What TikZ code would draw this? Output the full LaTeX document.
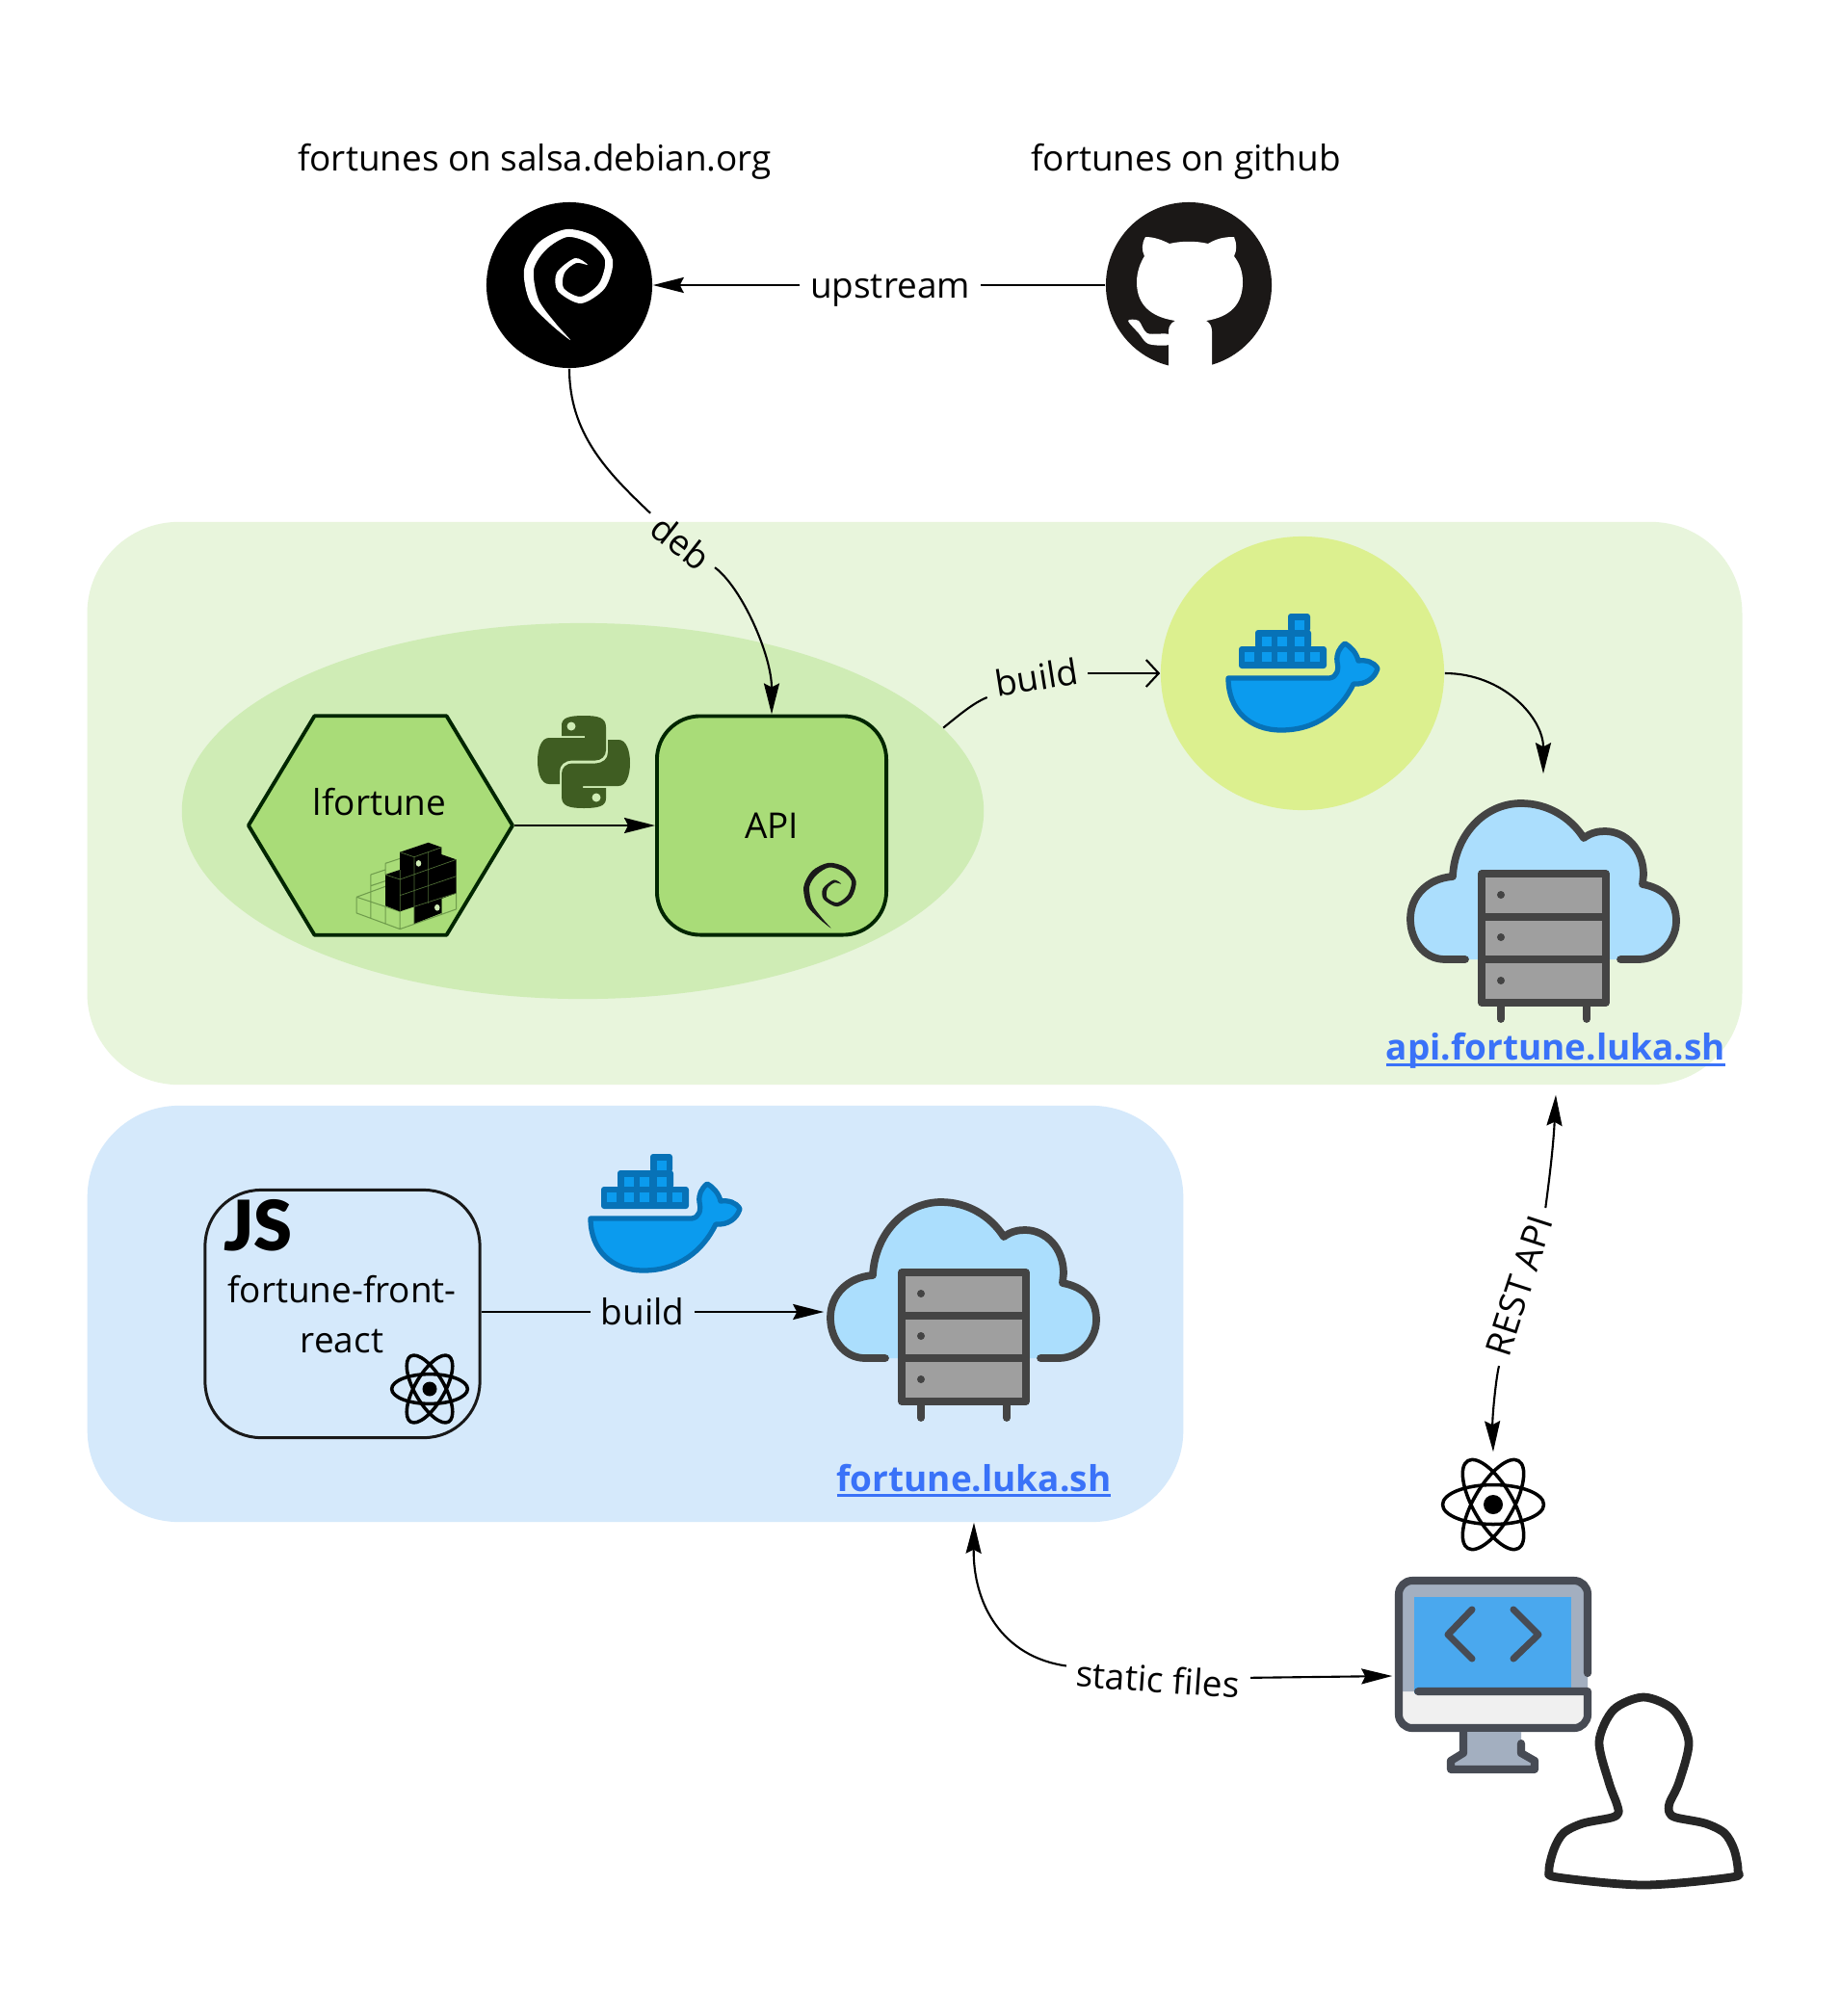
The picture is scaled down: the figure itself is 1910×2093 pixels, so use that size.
\documentclass[tikz,border=0pt]{standalone}
\usepackage{fontspec}
\setmainfont{Open Sans}
\newfontfamily\jsfont[BoldFont={* Black}]{Lato}
\usetikzlibrary{arrows.meta,shapes.geometric}
\definecolor{greenzonefill}{HTML}{E8F5DC}
\definecolor{bluezonefill}{HTML}{D5E9FB}
\definecolor{pyzonefill}{HTML}{CFECB5}
\definecolor{boxgreen}{HTML}{A9DC78}
\definecolor{limefill}{HTML}{DCF08F}
\definecolor{pygreen}{HTML}{3F5D22}
\definecolor{wiregreen}{HTML}{6F9C4C}
\definecolor{githubdark}{HTML}{1B1817}
\definecolor{dockerblue}{HTML}{0B9BEE}
\definecolor{dockerdark}{HTML}{0772B7}
\definecolor{cloudblue}{HTML}{ABDEFD}
\definecolor{serverdark}{HTML}{444444}
\definecolor{servergrey}{HTML}{9F9F9F}
\definecolor{linkblue}{HTML}{3A72F8}
\definecolor{monitordark}{HTML}{474B54}
\definecolor{monitorgrey}{HTML}{A3AFC0}
\definecolor{screenblue}{HTML}{4AA8EE}
\newcommand{\linktext}[1]{\setbox0\hbox{#1}\rlap{\rule[-0.17em]{\wd0}{0.09em}}\box0}
\def\cloudoutline{(61,166) -- (40,166) .. controls (18,166) and (4,146) .. (4,124) .. controls (4,100) and (22,82) .. (48,80) .. controls (50,38) and (80,4) .. (119,4) .. controls (146,4) and (170,18) .. (184,40) .. controls (192,34) and (200,33) .. (206,33) .. controls (228,33) and (246,52) .. (246,78) -- (245,88) .. controls (266,92) and (280,104) .. (280,126) .. controls (280,148) and (262,166) .. (241,166) -- (222,166)}
\tikzset{
	flow/.style={draw, ->, line width=0.6pt},
	plainflow/.style={draw, line width=0.6pt},
	edgelabel/.style={inner sep=1mm},
	iconbox/.style={inner sep=0pt},
	linknode/.style={inner sep=0pt, text=linkblue, font=\fontsize{10.5}{12}\selectfont\bfseries},
	pics/debswirl/.style={code={
		\fill[#1] plot[smooth cycle] coordinates {(1,57) (-20,40) (-41,17) (-47,-16) (-32,-44) (-3,-58) (27,-50) (45,-26) (37,3) (12,19) (-12,6) (-13,-13) (6,-28) (19,-21) (7,-23) (-5,-13) (-6,3) (12,12) (31,-2) (37,-26) (22,-43) (-2,-50) (-24,-37) (-37,-16) (-32,15) (-14,40)};
	}},
	pics/reactlogo/.style={code={
		\foreach \ang in {0,60,120} \draw[line width=1pt, rotate=\ang] (0,0) ellipse [x radius=52.5, y radius=20.5];
		\fill (0,0) circle [radius=10];
	}},
	pics/dockerlogo/.style={code={
		\fill[dockerdark, rounded corners=0.3mm] (14,34) rectangle (105,57) (31,17) rectangle (89,36) (65,0) rectangle (88,19);
		\foreach \cx/\cy in {20/40,38/40,54/40,72/40,88/40,38/24,54/24,72/24,72/7} \fill[dockerblue] (\cx,\cy) rectangle +(10,10);
		\draw[fill=dockerblue, draw=dockerdark, line width=1.5pt, line join=round] (3,67) -- (108,67) .. controls (116,66) and (118,58) .. (116,50) .. controls (115,42) and (118,36) .. (124,31) .. controls (131,35) and (136,41) .. (138,49) .. controls (146,48) and (154,50) .. (158,57) .. controls (155,67) and (146,74) .. (133,73) .. controls (120,100) and (95,121) .. (58,121) .. controls (25,121) and (3,100) .. (3,67) -- cycle;
	}},
	pics/cloudserver/.style={code={
		\fill[cloudblue] \cloudoutline -- cycle;
		\draw[serverdark, line width=2.2pt, line cap=round, line join=round] \cloudoutline;
		\draw[serverdark, fill=servergrey, line width=2.2pt, line join=round] (78,77) rectangle (207,211);
		\draw[serverdark, line width=2.2pt] (78,122) -- (207,122) (78,166) -- (207,166);
		\foreach \dy in {99,143,188} \fill[serverdark] (98,\dy) circle [radius=4];
		\draw[serverdark, line width=2.2pt, line cap=round] (98,213) -- (98,228) (187,213) -- (187,228);
	}}
}
\begin{document}
\begin{tikzpicture}[x=0.01cm, y=-0.01cm, font=\fontsize{10.5}{12}\selectfont, line join=round, >={Stealth[length=3.2mm,width=1.6mm,inset=0.4mm]}]
	\useasboundingbox[fill=white] (0,0) rectangle (1910,2093);
	% zones
	\node[fill=greenzonefill, rounded corners=0.95cm, minimum width=17.17cm, minimum height=5.84cm] (apizone) at (949.5,834) {};
	\node[fill=bluezonefill, rounded corners=0.95cm, minimum width=11.37cm, minimum height=4.32cm] (frontzone) at (659.5,1364) {};
	\node[ellipse, fill=pyzonefill, inner sep=0pt, minimum width=8.32cm, minimum height=3.9cm] (pyzone) at (605,842) {};
	\node[ellipse, fill=limefill, inner sep=0pt, minimum width=2.94cm, minimum height=2.84cm] (dockerzone) at (1352,699) {};
	% upstream
	\node (debianname) at (555,168) {fortunes on salsa.debian.org};
	\node (githubname) at (1231,168) {fortunes on github};
	\node[circle, fill=black, inner sep=0pt, minimum size=1.72cm] (debian) at (591,296) {};
	\pic at (debian.center) {debswirl=white};
	\node[circle, fill=githubdark, inner sep=0pt, minimum size=1.72cm] (github) at (1234,296) {};
	\fill[white] (1213,384) -- (1213,344) .. controls (1213,338) and (1216,335) .. (1220,333) .. controls (1194,329) and (1180,316) .. (1180,293) .. controls (1180,282) and (1184,272) .. (1188,266) .. controls (1185,260) and (1185,253) .. (1189,246) .. controls (1198,246) and (1206,249) .. (1214,253) .. controls (1226,250) and (1242,250) .. (1254,253) .. controls (1264,247) and (1272,246) .. (1281,246) .. controls (1284,253) and (1284,260) .. (1281,266) .. controls (1287,274) and (1290,282) .. (1290,293) .. controls (1290,316) and (1277,329) .. (1252,333) .. controls (1256,335) and (1258,339) .. (1258,344) -- (1258,384) -- cycle;
	\fill[white] plot[smooth cycle] coordinates {(1171,333) (1182,333) (1191,346) (1213,347) (1213,358) (1192,357) (1182,346)};
	\node[edgelabel] (upstream) at (924,302) {upstream};
	\path[plainflow] (github.west) -- (upstream.east |- github.west);
	\path[flow] (upstream.west |- debian.east) -- (debian.east);
	% api
	\node[regular polygon, regular polygon sides=6, draw=black!85!green, line width=1.1pt, fill=boxgreen, inner sep=0pt, minimum size=2.74cm, yscale=0.958, transform shape] (lfortune) at (395,857) {};
	\node (lfortunename) at (394,833) {lfortune};
	\node[draw=black!85!green, line width=1.1pt, fill=boxgreen, rounded corners=0.45cm, minimum width=2.38cm, minimum height=2.27cm] (api) at (801,857) {API};
	\pic[scale=0.59] at (862,930) {debswirl=black!90};
	\path[flow] (lfortune.east) -- (api.west);
	% python logo
	\foreach \ang in {0,180} {
		\begin{scope}[shift={(606,791)}, rotate=\ang]
			\fill[pygreen] (-23,-27) -- (-23,-38) .. controls (-23,-46) and (-15,-48) .. (0,-48) .. controls (15,-48) and (23,-46) .. (23,-36) -- (23,-12) .. controls (23,-6) and (18,-1.5) .. (12,-1.5) -- (-12,-1.5) .. controls (-20,-1) and (-25,3) .. (-25,10) -- (-25,23) -- (-36,23) .. controls (-44,23) and (-48,12) .. (-48,-1) .. controls (-48,-14) and (-44,-25) .. (-36,-25) -- (1,-25) -- (1,-27) -- cycle;
			\fill[pyzonefill] (-13,-37) circle [radius=4.5];
		\end{scope}
	}
	% pixel python logo
	\begin{scope}[shift={(230,700)}, x=0.004591cm, y=-0.003333cm]
		\draw[wiregreen, line width=0.3pt] (305,695) -- (305,745) -- (403,795) -- (530,733) -- (530,683) (305,695) -- (403,740) (337,680) -- (337,763) (370,722) -- (370,780) (403,740) -- (403,795) (337,625) -- (337,680) (337,625) -- (370,610) (337,660) -- (370,645) (370,590) -- (403,575) (370,590) -- (370,625) (305,695) -- (370,662) (497,700) -- (497,750);
		\fill[black] (403,555) -- (467,525) -- (497,540) -- (497,562) -- (530,578) -- (530,683) -- (497,700) -- (497,745) -- (435,778) -- (435,725) -- (403,740) -- (370,722) -- (370,625) -- (403,610) -- cycle;
		\draw[wiregreen!70!black, line width=0.2pt] (403,555) -- (435,570) -- (497,540) (435,570) -- (435,778) (467,555) -- (467,715) (403,610) -- (403,740) (370,625) -- (403,640) -- (530,578) (403,690) -- (530,630) (435,725) -- (530,683);
		\fill[pyzonefill] (445,590) ellipse [x radius=6, y radius=10] (487,728) ellipse [x radius=6, y radius=10];
	\end{scope}
	% docker, cloud
	\pic at (1272,637) {dockerlogo};
	\node[iconbox, minimum width=2.83cm, minimum height=2.56cm] (cloudapi) at (1602,932) {};
	\pic at (1460,830) {cloudserver};
	\node[linknode, minimum height=0.9cm] (apilink) at (1615,1091) {\linktext{api.fortune.luka.sh}};
	\node[edgelabel, rotate=-38] (deb) at (707,563) {deb};
	\path[plainflow] (debian.south) .. controls (591,450) and (630,490) .. (deb);
	\path[flow] (deb) .. controls (770,610) and (801,680) .. (api.north);
	\node[edgelabel, rotate=9] (buildapi) at (1076,703) {build};
	\path[plainflow] (pyzone.13) .. controls (996,742) and (1010,730) .. (buildapi);
	\path[draw, line width=0.6pt, -{Straight Barb[length=1.3mm,width=2.8mm]}] (buildapi.east |- dockerzone.west) -- (dockerzone.west);
	\path[flow] (dockerzone.east) .. controls (1560,699) and (1602,745) .. (cloudapi.north);
	% front
	\node[draw=black!90, line width=0.85pt, rounded corners=0.58cm, minimum width=2.85cm, minimum height=2.57cm] (jsbox) at (355.5,1364) {};
	\node[font=\fontsize{20.5}{23}\selectfont\jsfont\bfseries] (jsname) at (268,1272) {JS};
	\node[align=center, font=\fontsize{10.5}{14.8}\selectfont] (frontname) at (355,1365) {fortune-front-\\react};
	\pic[scale=0.75] at (446,1442) {reactlogo};
	\pic at (610,1198) {dockerlogo};
	\node[iconbox, minimum width=2.9cm, minimum height=2.9cm] (cloudfront) at (1001,1362) {};
	\pic at (858,1244) {cloudserver};
	\node[linknode, minimum height=0.86cm] (frontlink) at (1011,1537) {\linktext{fortune.luka.sh}};
	\node[edgelabel] (buildfront) at (667,1362) {build};
	\path[plainflow] (jsbox.east |- buildfront) -- (buildfront);
	\path[flow] (buildfront) -- (cloudfront.west);
	% user
	\node[iconbox, minimum width=1.1cm, minimum height=1.08cm] (reactuser) at (1550,1562) {};
	\pic at (reactuser.center) {reactlogo};
	\node[iconbox, minimum width=2.08cm, minimum height=2cm] (monitor) at (1550,1740) {};
	\fill[black!6, rounded corners=0.14cm] (1452,1641) rectangle (1648,1794);
	\fill[monitorgrey] (1452,1756) [rounded corners=0.14cm] -- (1452,1641) -- (1648,1641) [sharp corners] -- (1648,1756) -- cycle;
	\fill[screenblue] (1468,1658) rectangle (1631,1758);
	\draw[monitordark, line width=2.3pt, line cap=round] (1648,1737) [rounded corners=0.14cm] -- (1648,1641) -- (1452,1641) -- (1452,1794) -- (1648,1794) [sharp corners] -- (1648,1756) -- (1472,1756);
	\draw[monitordark, line width=2pt, line cap=round] (1528,1671) -- (1503,1697) -- (1528,1722) (1571,1671) -- (1597,1697) -- (1571,1722);
	\fill[monitorgrey] (1519,1798) -- (1519,1820) -- (1506,1828) -- (1506,1837) -- (1593,1837) -- (1593,1828) -- (1579,1820) -- (1579,1798) -- cycle;
	\draw[monitordark, line width=2.3pt, line cap=round] (1519,1798) -- (1519,1820) -- (1506,1828) -- (1506,1837) -- (1593,1837) -- (1593,1828) -- (1579,1820) -- (1579,1810);
	\draw[black!85, line width=2.5pt] plot[smooth cycle] coordinates {(1706,1762) (1737,1775) (1753,1808) (1743,1850) (1733,1872) (1733,1882) (1740,1887) (1770,1893) (1790,1903) (1800,1920) (1804,1942) (1797,1949) (1706,1957) (1617,1949) (1608,1942) (1613,1920) (1623,1903) (1643,1893) (1673,1887) (1680,1882) (1678,1872) (1670,1850) (1660,1808) (1675,1775)};
	\node[edgelabel, rotate=72] (restapi) at (1577,1335) {REST API};
	\path[flow] (restapi) .. controls (1604,1255) and (1612,1200) .. (apilink.south);
	\path[flow] (restapi) .. controls (1553,1430) and (1549,1470) .. (reactuser.north);
	\node[edgelabel, rotate=-4] (staticfiles) at (1202,1743) {static files};
	\path[flow] (staticfiles) .. controls (1040,1720) and (1010,1665) .. (frontlink.south);
	\path[flow] (staticfiles) -- (monitor.west);
\end{tikzpicture}
\end{document}
